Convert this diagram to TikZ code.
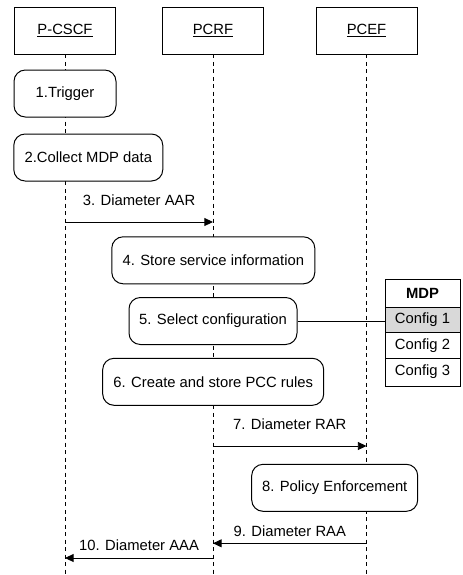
\documentclass[tikz,border=0pt]{standalone}
\usepackage{fontspec}
\setmainfont{Liberation Sans}
\usetikzlibrary{arrows.meta}
\begin{document}
\begin{tikzpicture}[x=0.75pt,y=-0.75pt,
  every node/.style={font=\fontsize{11.1}{13}\selectfont, inner sep=0pt},
  head/.style={draw, line width=0.6pt, fill=white, minimum width=75.75pt, minimum height=35.25pt},
  act/.style={draw, line width=0.75pt, fill=white, rounded corners=8.5pt, minimum height=35.25pt},
  life/.style={line width=0.65pt, dash pattern=on 3pt off 2.6pt},
  msg/.style={line width=0.65pt, -{Triangle[length=6.5pt,width=6pt]}},
  cell/.style={draw, line width=0.6pt, minimum width=56.25pt}
]
\useasboundingbox (0,0) rectangle (462,575);
% header boxes
\node[head] (pcscf) at (65,30.5) {\underline{P-CSCF}};
\node[head] (pcrf) at (213,30.5) {\underline{PCRF}};
\node[head] (pcef) at (366.5,30.5) {\underline{PCEF}};
% lifeline ends
\coordinate (pcscfEnd) at (65,575);
\coordinate (pcrfEnd) at (213,575);
\coordinate (pcefEnd) at (366.5,575);
\draw[life] (pcscf.south) -- (pcscfEnd);
\draw[life] (pcrf.south) -- (pcrfEnd);
\draw[life] (pcef.south) -- (pcefEnd);
% activities
\node[act, minimum width=76.5pt] (trigger) at (65,93.5) {1.Trigger};
\node[act, minimum width=111.75pt] (collect) at (88.3,157.5) {2.Collect MDP data};
\node[act, minimum width=152.25pt] (store) at (213.3,260.3) {4. Store service information};
\node[act, minimum width=126pt] (select) at (213,321) {5. Select configuration};
\node[act, minimum width=165.75pt] (create) at (213.2,381.8) {6. Create and store PCC rules};
\node[act, minimum width=124.5pt] (policy) at (334.7,487.8) {8. Policy Enforcement};
% MDP table
\node[cell, minimum height=20.6pt, fill=white] (mdp) at (422.5,293.25) {\textbf{MDP}};
\node[cell, minimum height=19.1pt, fill=black!15] (c1) at (422.5,319.75) {Config 1};
\node[cell, minimum height=19.1pt, fill=white] (c2) at (422.5,345.25) {Config 2};
\node[cell, minimum height=21pt, fill=white] (c3) at (422.5,372) {Config 3};
\draw[line width=0.75pt] (select.east) -- (c1.west |- select.east);
% messages
\coordinate (m3a) at (65,222);  \coordinate (m3b) at (213,222);
\draw[msg] (m3a) -- node[above=12pt] {3. Diameter AAR} (m3b);
\coordinate (m7a) at (213,446); \coordinate (m7b) at (366.5,446);
\draw[msg] (m7a) -- node[above=12pt] {7. Diameter RAR} (m7b);
\coordinate (m9a) at (366.5,543.3); \coordinate (m9b) at (213,543.3);
\draw[msg] (m9a) -- node[above=5pt] {9. Diameter RAA} (m9b);
\coordinate (m10a) at (213,558); \coordinate (m10b) at (65,558);
\draw[msg] (m10a) -- node[above=5.5pt] {10. Diameter AAA} (m10b);
\end{tikzpicture}
\end{document}
